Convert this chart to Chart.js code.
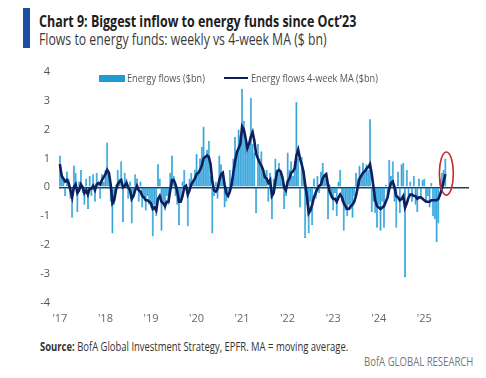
<!DOCTYPE html>
<html>
<head>
<meta charset="utf-8">
<script src="https://cdn.jsdelivr.net/npm/chart.js@4.4.1/dist/chart.umd.min.js"></script>
<style>
html,body{margin:0;padding:0;background:#fff;}
body{width:486px;height:378px;position:relative;overflow:hidden;font-family:"Open Sans",sans-serif;}
.t{position:absolute;white-space:nowrap;transform-origin:0 0;}
#accent{position:absolute;left:23px;top:8px;width:7px;height:40px;background:#1b4fa3;}
#title{left:39px;top:12.5px;font-size:16px;line-height:16px;font-weight:700;color:#1c1c1c;}
#sub{left:39px;top:31px;font-size:16px;line-height:16px;color:#3a3a3a;}
#wrap{position:absolute;left:0;top:56px;width:486px;height:272px;}
#lgBox{position:absolute;left:99px;top:75px;width:26px;height:7px;background:#1f9ad6;}
#lgLine{position:absolute;left:224px;top:77px;width:24px;height:2px;background:#0c1f5e;}
#lg1{left:127px;top:72px;font-size:11px;line-height:11px;color:#555;}
#lg2{left:251px;top:72px;font-size:11px;line-height:11px;color:#555;}
#src{left:40px;top:341px;font-size:12px;line-height:12px;color:#333;}
#brand{left:364px;top:356px;font-size:12px;line-height:12px;color:#777;}
</style>
</head>
<body>
<div id="accent"></div>
<div class="t" id="title" data-w="317">Chart 9: Biggest inflow to energy funds since Oct’23</div>
<div class="t" id="sub" data-w="288">Flows to energy funds: weekly vs 4-week MA ($ bn)</div>
<div id="wrap"><canvas id="c"></canvas></div>
<div id="lgBox"></div>
<div class="t" id="lg1" data-w="78">Energy flows ($bn)</div>
<div id="lgLine"></div>
<div class="t" id="lg2" data-w="127">Energy flows 4-week MA ($bn)</div>
<div class="t" id="src" data-w="308"><b>Source:</b> BofA Global Investment Strategy, EPFR. MA = moving average.</div>
<div class="t" id="brand" data-w="109">BofA GLOBAL RESEARCH</div>
<script>
// ---- data (biweekly readings, $bn) ----
const years = ['2017','2018','2019','2020','2021','2022','2023','2024','2025'];
const yearTicks = ["'17","'18","'19","'20","'21","'22","'23","'24","'25"];
const periodsPerYear = 26;

const flows = [
  1.1, 0.5, 0.35, -0.3, 0.55, 0.3, -0.4, -1.05, 0.75, 0.5, -0.85, 0.2, 0.6, -0.2, -0.6, 0.3, -0.75, 0.4, -0.3, 0.45, -0.5, 0.5, 0.1, -0.4, 0.45, 0.2,
  0.6, 1.55, 0.5, -0.5, -1.6, -0.6, 0.1, 0.6, 0.3, 0.9, -1.2, 0.5, 0.3, -0.4, 0.2, -1.25, -0.3, 0.45, 0.3, -0.5, 0.2, -0.7, -0.4, -0.8, -0.3, -0.6,
  -0.7, -1.7, -0.6, -1.0, 0.8, 0.3, -1.5, -0.5, -0.8, -0.3, -0.6, 0.5, 1.1, 0.4, -0.3, -0.6, -1.3, -0.5, 0.2, 0.6, 0.1, -1.35, 0.3, 0.5, 0.2, 0.6,
  1.15, 0.5, 1.0, 1.4, 2.1, 1.0, 1.3, 1.6, 0.4, -1.6, -0.3, 0.2, -0.4, 1.1, 0.8, 0.4, -0.7, -0.5, -0.3, 0.6, 0.3, 1.0, 1.75, 1.3, 2.0, 1.8,
  3.4, 2.3, 1.6, 1.4, 1.4, 3.1, 1.5, 1.2, -0.9, 1.5, 1.0, 1.25, 0.5, 0.3, 0.6, -0.5, 0.5, -1.1, 0.3, 1.0, 0.6, 0.85, 0.5, 0.2, -0.75, -0.3,
  1.2, 0.6, 0.9, 0.4, 0.9, 2.95, 1.0, -0.7, 1.05, 0.6, -1.75, -0.6, -1.6, -0.5, -1.3, 0.3, -0.4, 0.4, -0.2, 0.55, 0.85, 0.3, 0.5, -1.1, 0.1, -0.4,
  -0.8, -0.2, -1.0, 0.2, 0.6, -0.5, -1.5, -0.8, -1.0, -0.6, -0.75, -1.05, -0.3, 0.5, 0.3, 0.75, 0.4, 0.85, 0.5, 0.8, 0.6, 2.35, -0.85, -0.5, -0.9, -1.4,
  -0.6, -1.5, -0.5, -1.4, 0.1, -0.3, 0.95, 0.4, 0.9, -0.5, -1.4, 0.55, -0.9, 0.8, 0.85, -3.1, 0.6, -0.3, 0.2, -0.5, 0.4, -0.6, -0.85, 0.3, -0.4, 0.25,
  0.3, -0.5, -0.3, -0.7, 0.15, -1.0, -1.1, -1.9, -1.25, 0.3, 0.5, 0.6, 1.0
];

const ma4w = [
  0.8, 0.4, 0.3, 0.2, 0.25, 0.15, -0.1, -0.35, 0.0, 0.1, -0.2, -0.1, 0.1, 0.0, -0.2, -0.1, -0.25, -0.05, -0.05, 0.05, -0.1, 0.1, 0.15, 0.1, 0.25, 0.35,
  0.45, 0.6, 0.5, 0.1, -0.55, -0.45, -0.1, 0.1, 0.2, 0.25, 0.0, 0.05, 0.15, 0.0, -0.1, -0.4, -0.3, -0.1, 0.05, -0.1, -0.15, -0.3, -0.35, -0.45, -0.45, -0.5,
  -0.55, -0.75, -0.7, -0.8, -0.4, -0.3, -0.5, -0.55, -0.65, -0.5, -0.5, -0.1, 0.25, 0.25, 0.1, -0.15, -0.5, -0.5, -0.3, 0.0, 0.05, -0.25, -0.1, 0.1, 0.2, 0.3,
  0.45, 0.5, 0.6, 0.75, 1.0, 1.05, 1.1, 1.05, 0.8, 0.2, -0.1, -0.15, -0.05, 0.25, 0.45, 0.5, 0.1, -0.2, -0.3, -0.15, 0.1, 0.5, 0.9, 1.2, 1.35, 1.5,
  2.1, 2.0, 1.7, 1.35, 1.5, 1.75, 1.9, 1.6, 1.15, 1.0, 0.85, 0.75, 0.6, 0.35, 0.3, 0.15, 0.25, -0.3, -0.2, 0.2, 0.55, 0.6, 0.55, 0.35, 0.0, -0.1,
  0.2, 0.3, 0.5, 0.55, 0.65, 1.1, 1.3, 1.0, 0.8, 0.55, 0.1, -0.3, -0.9, -0.8, -0.6, -0.35, -0.2, -0.05, 0.05, 0.1, 0.3, 0.4, 0.45, 0.1, -0.15, -0.3,
  -0.4, -0.4, -0.5, -0.35, -0.25, -0.35, -0.55, -0.65, -0.75, -0.75, -0.65, -0.6, -0.5, -0.3, 0.0, 0.3, 0.4, 0.5, 0.55, 0.65, 0.7, 0.8, 0.45, 0.0, -0.45, -0.65,
  -0.7, -0.75, -0.7, -0.65, -0.5, -0.35, -0.05, 0.15, 0.2, 0.0, -0.3, -0.35, -0.45, -0.4, -0.3, -0.7, -0.55, -0.35, -0.25, -0.25, -0.3, -0.3, -0.4, -0.35, -0.35, -0.4,
  -0.45, -0.5, -0.5, -0.5, -0.45, -0.45, -0.45, -0.45, -0.4, -0.25, -0.05, 0.2, 0.45
];

// highlighted latest reading (red ring), in $bn
const highlightRange = [-0.27, 1.22];

// category labels: one per biweekly period, full calendar years
const categories = [];
years.forEach(y => { for (let p = 1; p <= periodsPerYear; p++) categories.push(y + '-P' + p); });

// ---- fit header/footer texts to reference widths ----
document.querySelectorAll('.t').forEach(el => {
  const w = parseFloat(el.dataset.w);
  const a = el.offsetWidth;
  if (a > 0) el.style.transform = 'scaleX(' + (w / a) + ')';
});

const ringPlugin = {
  id: 'ring',
  afterDatasetsDraw(chart) {
    const {ctx, scales} = chart;
    const cx = scales.x.getPixelForValue(flows.length - 1) + 1;
    const top = scales.y.getPixelForValue(highlightRange[1]);
    const bot = scales.y.getPixelForValue(highlightRange[0]);
    ctx.save();
    ctx.strokeStyle = '#c62a2f';
    ctx.lineWidth = 1.6;
    ctx.beginPath();
    ctx.ellipse(cx, (top + bot) / 2, 7, (bot - top) / 2, 0, 0, Math.PI * 2);
    ctx.stroke();
    ctx.restore();
  }
};

const tickFont = {family: '"Open Sans", sans-serif', size: 11};
const barBlue = '#1f9ad6';

new Chart(document.getElementById('c'), {
  type: 'bar',
  data: {
    labels: categories,
    datasets: [
      {type: 'line', label: 'Energy flows 4-week MA ($bn)', data: ma4w, borderColor: '#0c1f5e',
       borderWidth: 2.6, pointRadius: 0, tension: 0, order: 0},
      {type: 'bar', label: 'Energy flows ($bn)', data: flows, backgroundColor: barBlue,
       borderColor: barBlue, borderWidth: 0.6, borderSkipped: false,
       barPercentage: 1.2, categoryPercentage: 1, order: 1}
    ]
  },
  options: {
    responsive: true,
    maintainAspectRatio: false,
    animation: false,
    layout: {padding: {left: 0, right: 17, top: 10, bottom: 0}},
    plugins: {legend: {display: false}, tooltip: {enabled: false}},
    scales: {
      x: {
        grid: {display: false},
        border: {display: false},
        ticks: {
          autoSkip: false, maxRotation: 0, minRotation: 0, padding: 1.5,
          color: '#666', font: tickFont,
          callback: (v, i) => (i % periodsPerYear === 0 ? yearTicks[i / periodsPerYear] : '')
        },
        afterFit: s => { s.height = 25; }
      },
      y: {
        min: -4, max: 4,
        z: 1,
        ticks: {stepSize: 1, color: '#555', font: tickFont, padding: 9},
        grid: {color: c => (c.tick.value === 0 ? '#243f5c' : 'rgba(0,0,0,0)'), lineWidth: 1.6, drawTicks: false},
        border: {display: false},
        afterFit: s => { s.width = 59; }
      }
    }
  },
  plugins: [ringPlugin]
});
</script>
</body>
</html>
